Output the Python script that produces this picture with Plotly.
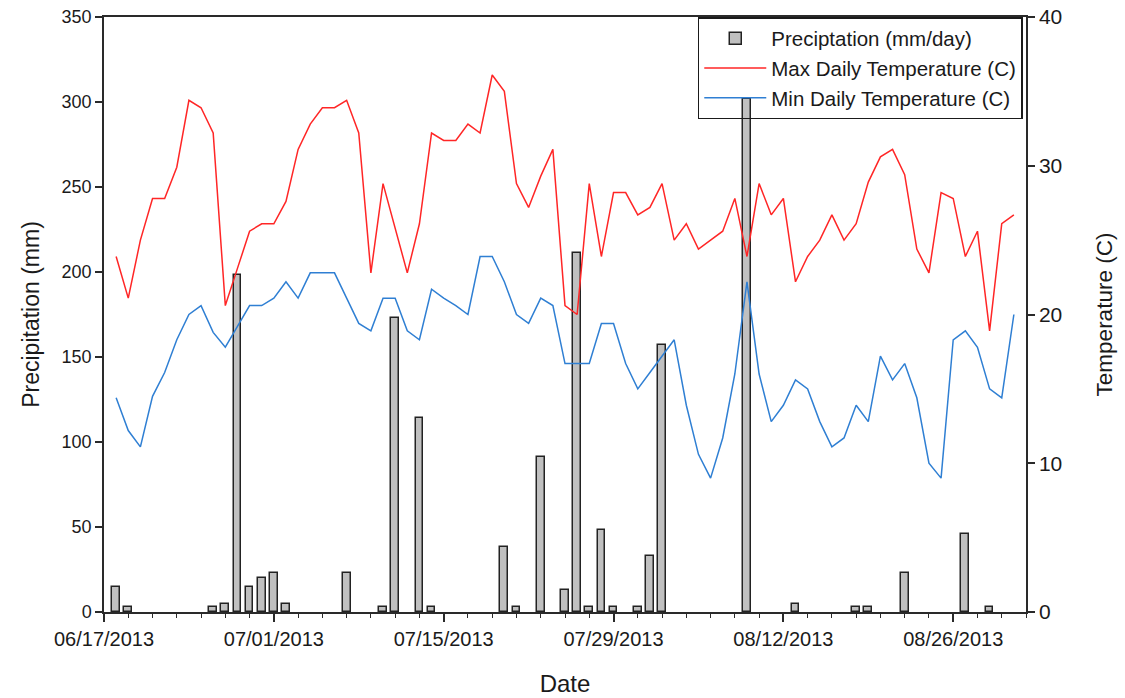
import plotly.graph_objects as go
import pandas as pd

# Precipitation (mm/day) - only days with rain
precip_dates = ["2013-06-18", "2013-06-19", "2013-06-26", "2013-06-27", "2013-06-28",
                "2013-06-29", "2013-06-30", "2013-07-01", "2013-07-02", "2013-07-07",
                "2013-07-10", "2013-07-11", "2013-07-13", "2013-07-14", "2013-07-20",
                "2013-07-21", "2013-07-23", "2013-07-25", "2013-07-26", "2013-07-27",
                "2013-07-28", "2013-07-29", "2013-07-31", "2013-08-01", "2013-08-02",
                "2013-08-09", "2013-08-13", "2013-08-18", "2013-08-19", "2013-08-22",
                "2013-08-27", "2013-08-29"]
precip_mm = [15, 3, 3, 5, 198, 15, 20, 23, 5, 23,
             3, 173, 114, 3, 38, 3, 91, 13, 211, 3,
             48, 3, 3, 33, 157, 302, 5, 3, 3, 23,
             46, 3]

# Daily temperatures from 06/18/2013 to 08/31/2013
temp_dates = pd.date_range("2013-06-18", "2013-08-31", freq="D")
max_temp = [23.9, 21.1, 25.0, 27.8, 27.8, 29.9, 34.4, 33.9, 32.2, 20.6,
            23.1, 25.6, 26.1, 26.1, 27.6, 31.1, 32.8, 33.9, 33.9, 34.4,
            32.2, 22.8, 28.8, 25.8, 22.8, 26.1, 32.2, 31.7, 31.7, 32.8,
            32.2, 36.1, 35.0, 28.8, 27.2, 29.3, 31.1, 20.6, 20.0, 28.8,
            23.9, 28.2, 28.2, 26.7, 27.2, 28.8, 25.0, 26.1, 24.4, 25.0,
            25.6, 27.8, 23.9, 28.8, 26.7, 27.8, 22.2, 23.9, 25.0, 26.7,
            25.0, 26.1, 28.9, 30.6, 31.1, 29.4, 24.4, 22.8, 28.2, 27.8,
            23.9, 25.6, 18.9, 26.1, 26.7]
min_temp = [14.4, 12.2, 11.1, 14.5, 16.1, 18.3, 20.0, 20.6, 18.8, 17.8,
            19.2, 20.6, 20.6, 21.1, 22.2, 21.1, 22.8, 22.8, 22.8, 21.1,
            19.4, 18.9, 21.1, 21.1, 18.9, 18.3, 21.7, 21.1, 20.6, 20.0,
            23.9, 23.9, 22.2, 20.0, 19.4, 21.1, 20.6, 16.7, 16.7, 16.7,
            19.4, 19.4, 16.7, 15.0, 16.1, 17.2, 18.3, 13.9, 10.6, 9.0,
            11.7, 16.0, 22.2, 16.0, 12.8, 13.9, 15.6, 15.0, 12.8, 11.1,
            11.7, 13.9, 12.8, 17.2, 15.6, 16.7, 14.4, 10.0, 9.0, 18.3,
            18.9, 17.8, 15.0, 14.4, 20.0]

DAY = 86400000
FONT = "Liberation Sans, Arial, sans-serif"
AX = "#2a2a2a"

fig = go.Figure()
fig.add_trace(go.Bar(
    x=precip_dates, y=precip_mm, name="Preciptation (mm/day)",
    width=0.64 * DAY,
    marker=dict(color="#c0c0c0", line=dict(color="#222222", width=1.5)),
    yaxis="y"))
fig.add_trace(go.Scatter(
    x=temp_dates, y=max_temp, name="Max Daily Temperature (C)", mode="lines",
    line=dict(color="#ff2626", width=1.5), yaxis="y2"))
fig.add_trace(go.Scatter(
    x=temp_dates, y=min_temp, name="Min Daily Temperature (C)", mode="lines",
    line=dict(color="#2f7fd3", width=1.5), yaxis="y2"))

fig.update_layout(
    width=1125, height=698,
    margin=dict(l=104, r=99, t=17, b=86, autoexpand=False),
    paper_bgcolor="white", plot_bgcolor="white",
    font=dict(family=FONT, color="#1a1a1a", size=18),
    showlegend=True,
    legend=dict(x=0.644, y=1.0, xanchor="left", yanchor="top",
                bgcolor="rgba(0,0,0,0)", bordercolor="#1a1a1a", borderwidth=1.5,
                font=dict(size=20.5, family=FONT, color="#1a1a1a"),
                tracegroupgap=0, itemwidth=62),
    xaxis=dict(
        type="date", range=["2013-06-17", "2013-09-01"], automargin=False,
        tick0="2013-06-17", dtick=14 * DAY, tickformat="%m/%d/%Y",
        ticks="outside", ticklen=8, tickwidth=1.5, tickcolor=AX,
        showline=True, linecolor=AX, linewidth=1.5, mirror=True,
        showgrid=False, zeroline=False,
        tickfont=dict(size=20, family=FONT),
        minor=dict(dtick=2 * DAY, tick0="2013-06-17", ticks="outside", ticklen=4,
                   tickwidth=1.2, tickcolor=AX, showgrid=False),
        title=dict(text="Date", font=dict(size=24, family=FONT), standoff=26),
    ),
    yaxis=dict(
        range=[0, 350], dtick=50, ticks="outside", ticklen=7, tickwidth=1.5,
        tickcolor=AX, showline=True, linecolor=AX, linewidth=1.5, automargin=False,
        showgrid=False, zeroline=False,
        tickfont=dict(size=18, family=FONT),
        title=dict(text="Precipitation (mm)", font=dict(size=23, family=FONT), standoff=16),
    ),
    yaxis2=dict(
        range=[0, 40], dtick=10, overlaying="y", side="right", automargin=False,
        ticks="outside", ticklen=7, tickwidth=1.5, tickcolor=AX,
        showline=True, linecolor=AX, linewidth=1.5,
        showgrid=False, zeroline=False,
        tickfont=dict(size=21, family=FONT),
        title=dict(text="Temperature (C)", font=dict(size=22.5, family=FONT), standoff=35),
    ),
    bargap=0,
)

fig.write_html("out.html")
